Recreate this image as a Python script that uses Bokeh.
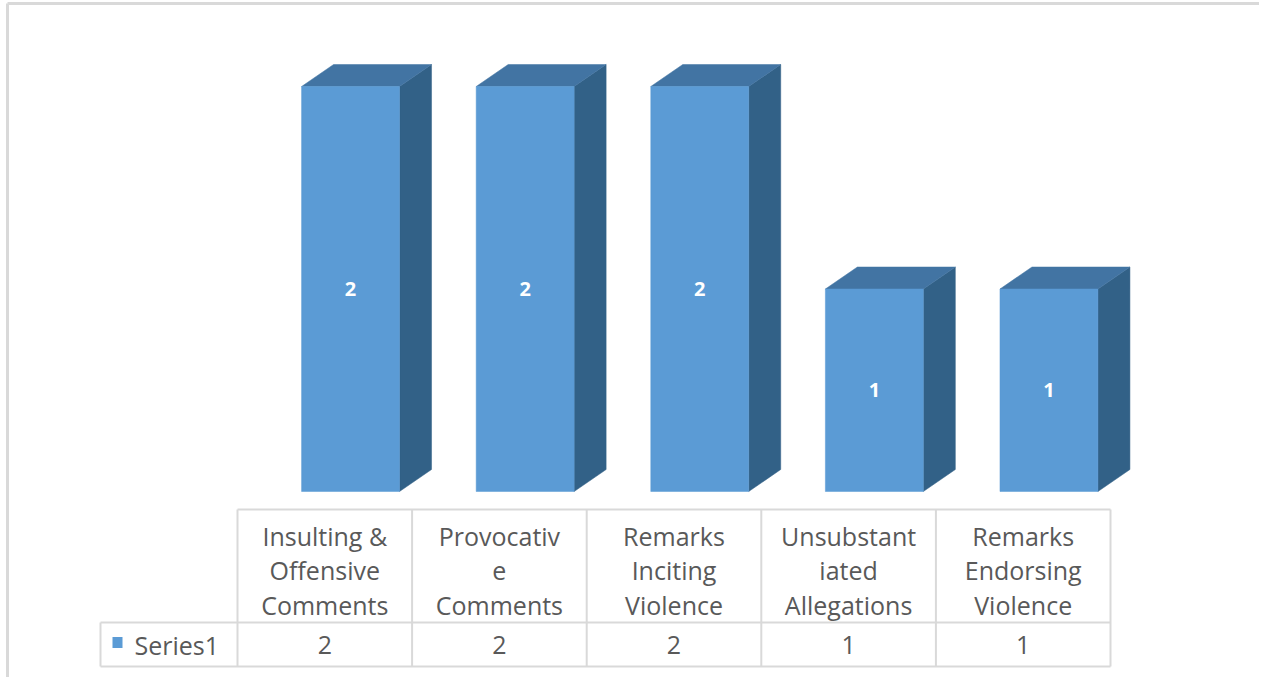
from bokeh.plotting import figure
from bokeh.models import Range1d
from bokeh.core.properties import value
from bokeh.embed import file_html
from bokeh.resources import INLINE

# ---- data ----
categories = [
    "Insulting &\nOffensive\nComments",
    "Provocativ\ne\nComments",
    "Remarks\nInciting\nViolence",
    "Unsubstant\niated\nAllegations",
    "Remarks\nEndorsing\nViolence",
]
values = [2, 2, 2, 1, 1]
series_name = "Series1"

# ---- layout (pixel geometry of the page) ----
W, H = 1259, 677
PAGE = 0
COL_PX = 174.6        # width of one table column
COL0_PX = 237         # page x of table's first column
UNIT_PX = 202.5       # pixels per value unit
BASE_PX = 491         # page y of bar baseline

def ux(px):
    return (px - COL0_PX) / COL_PX

def vy(py):
    return (BASE_PX - py) / UNIT_PX

FONT = "Open Sans"
TXT = "#595959"
GRID = "#D9D9D9"
FRONT = "#5B9BD5"
TOP = "#4274A3"
SIDE = "#326187"

p = figure(width=W, height=H, toolbar_location=None, output_backend="svg",
           x_range=Range1d(ux(PAGE), ux(PAGE + W)),
           y_range=Range1d(vy(PAGE + H), vy(PAGE)),
           x_axis_location=None, y_axis_location=None, min_border=0)
p.grid.visible = False
p.outline_line_color = None
p.background_fill_color = "white"
p.border_fill_color = "white"

# outer chart frame (top and left edges visible)
xs0, xs1 = ux(PAGE), ux(PAGE + W)
ys0, ys1 = vy(PAGE + H), vy(PAGE)
p.segment(x0=[ux(7)], y0=[ys0], x1=[ux(7)], y1=[vy(3)], line_color="#D9D9D9", line_width=3)
p.segment(x0=[ux(7)], y0=[vy(3)], x1=[xs1], y1=[vy(3)], line_color="#D9D9D9", line_width=3)

# ---- 3D bars ----
n = len(values)
off_l, off_r = 0.367, 0.928
dx = 32 / COL_PX
dy = 22 / UNIT_PX
lefts = [i + off_l for i in range(n)]
rights = [i + off_r for i in range(n)]

top_xs = [[l, r, r + dx, l + dx] for l, r in zip(lefts, rights)]
top_ys = [[v, v, v + dy, v + dy] for v in values]
side_xs = [[r, r + dx, r + dx, r] for r in rights]
side_ys = [[0, dy, v + dy, v] for v in values]

p.patches(xs=side_xs, ys=side_ys, fill_color=SIDE, line_color=SIDE, line_width=0.5)
p.patches(xs=top_xs, ys=top_ys, fill_color=TOP, line_color=TOP, line_width=0.5)
p.quad(left=lefts, right=rights, bottom=[0] * n, top=values,
       fill_color=FRONT, line_color=FRONT, line_width=0.5)

# data labels
p.text(x=[(l + r) / 2 for l, r in zip(lefts, rights)], y=[v / 2 for v in values],
       text=[str(v) for v in values], text_color="white", text_font=value(FONT),
       text_font_style="bold", text_font_size="20px", text_align="center",
       text_baseline="middle")

# ---- data table ----
hdr_top = vy(509)
row_top = vy(622)
row_bot = vy(666)
key_left = ux(100)

hx0 = [0, key_left, key_left]
hx1 = [n, n, n]
hy = [hdr_top, row_top, row_bot]
p.segment(x0=hx0, y0=hy, x1=hx1, y1=hy, line_color=GRID, line_width=2)
vx = list(range(n + 1)) + [key_left]
vy0 = [hdr_top] * (n + 1) + [row_top]
p.segment(x0=vx, y0=vy0, x1=vx, y1=[row_bot] * (n + 2), line_color=GRID, line_width=2)

p.text(x=[i + 0.5 for i in range(n)], y=[vy(570)] * n, text=categories,
       text_color=TXT, text_font=value(FONT), text_font_size="25px",
       text_align="center", text_baseline="middle", text_line_height=1.02)
p.text(x=[i + 0.5 for i in range(n)], y=[vy(644)] * n, text=[str(v) for v in values],
       text_color=TXT, text_font=value(FONT), text_font_size="25px",
       text_align="center", text_baseline="middle")

# legend key cell
p.rect(x=[ux(117)], y=[vy(642)], width=10, height=11, width_units="screen",
       height_units="screen", fill_color=FRONT, line_color=None)
p.text(x=[ux(134)], y=[vy(644)], text=[series_name], text_color=TXT,
       text_font=value(FONT), text_font_size="25px", text_align="left",
       text_baseline="middle")

open("out.html", "w").write(file_html(p, INLINE))
